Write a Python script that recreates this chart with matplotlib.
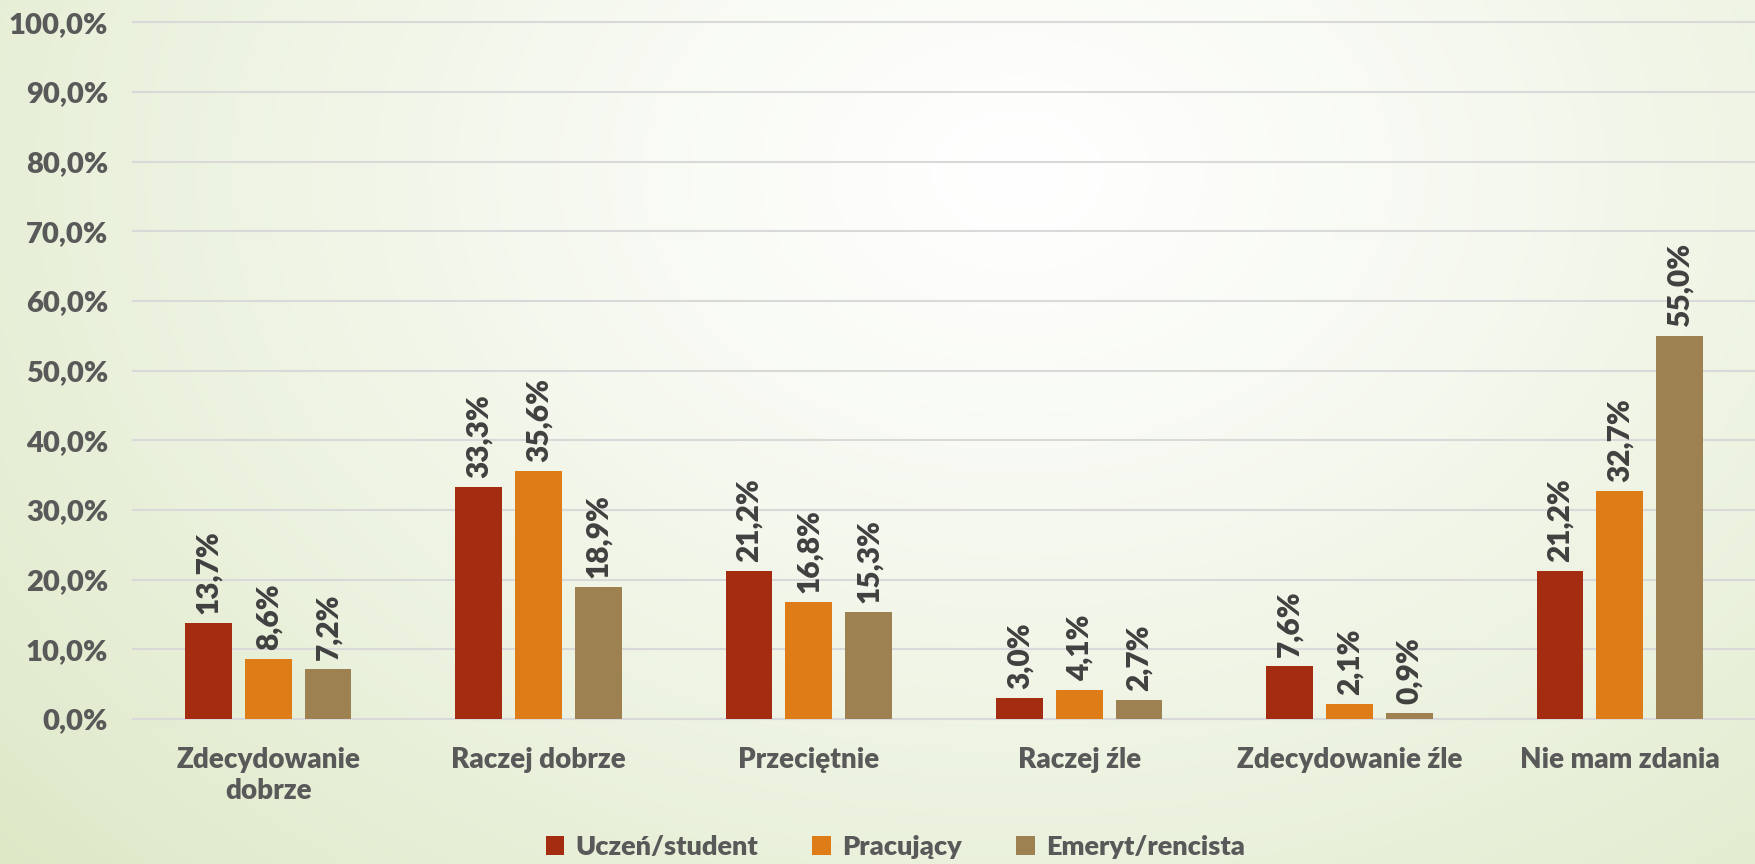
import numpy as np
import matplotlib
matplotlib.use("Agg")
import matplotlib.pyplot as plt
from matplotlib.patches import Patch

plt.rcParams['font.family'] = ['Lato', 'DejaVu Sans']
plt.rcParams['font.weight'] = 'heavy'

categories = ["Zdecydowanie\ndobrze", "Raczej dobrze", "Przeciętnie",
              "Raczej źle", "Zdecydowanie źle", "Nie mam zdania"]
series_names = ["Uczeń/student", "Pracujący", "Emeryt/rencista"]
uczen = [13.7, 33.3, 21.2, 3.0, 7.6, 21.2]
pracujacy = [8.6, 35.6, 16.8, 4.1, 2.1, 32.7]
emeryt = [7.2, 18.9, 15.3, 2.7, 0.9, 55.0]
colors = ["#A42C10", "#DE7C18", "#9E8150"]

fig = plt.figure(figsize=(17.55, 8.64), dpi=100)

# radial gradient background
bg = fig.add_axes([0, 0, 1, 1])
bg.set_axis_off()
gy, gx = np.mgrid[0:1:300j, 0:1:600j]
d = np.sqrt(((gx - 0.58) * 1.5) ** 2 + ((gy - 0.2) * 1.0) ** 2)
d = np.clip(d / 1.2, 0, 1) ** 1.2
inner = np.array([1.0, 1.0, 1.0])
outer = np.array([0xdd, 0xe8, 0xc6]) / 255
img = inner[None, None, :] * (1 - d[..., None]) + outer[None, None, :] * d[..., None]
bg.imshow(img, extent=[0, 1, 0, 1], aspect='auto', origin='upper')
bg.set_xlim(0, 1)
bg.set_ylim(0, 1)

ax = fig.add_axes([0.0758, 0.168, 0.9242, 0.806])
ax.patch.set_alpha(0)

x = np.arange(len(categories))
w = 0.173
step = 0.221
for i, (vals, c) in enumerate(zip([uczen, pracujacy, emeryt], colors)):
    xs = x + (i - 1) * step
    ax.bar(xs, [v / 100 for v in vals], width=w, color=c, zorder=3)
    for xi, v in zip(xs, vals):
        ax.text(xi, v / 100 + 0.013, f"{v:.1f}%".replace(".", ","),
                rotation=90, ha='center', va='bottom', fontsize=21.5,
                fontweight='heavy', color='#404040', zorder=4)

ax.set_xlim(-0.5, len(categories) - 0.5)
ax.set_ylim(0, 1.0)
ax.set_yticks(np.arange(0, 1.01, 0.1))
ax.set_yticklabels([f"{t:.1f}%".replace(".", ",") for t in np.arange(0, 101, 10)])
ax.set_xticks(x)
ax.set_xticklabels(categories)
ax.grid(axis='y', color='#d9d9d9', linewidth=1.5, zorder=0)
for gl in ax.get_ygridlines():
    gl.set_clip_on(False)
for s in ['top', 'right', 'left']:
    ax.spines[s].set_visible(False)
ax.spines['bottom'].set_color('#d9d9d9')
ax.spines['bottom'].set_linewidth(1.5)
ax.tick_params(axis='both', length=0, labelcolor='#595959')
ax.tick_params(axis='y', pad=18, labelsize=21)
ax.tick_params(axis='x', pad=20, labelsize=20)
for lab in ax.get_xticklabels() + ax.get_yticklabels():
    lab.set_fontweight('heavy')
    lab.set_linespacing(1.25)

handles = [Patch(facecolor=c) for c in colors]
fig.legend(handles, series_names, loc='center', bbox_to_anchor=(0.51, 0.02),
           ncol=3, frameon=False, labelcolor='#595959',
           prop={'weight': 'heavy', 'size': 19.5},
           handlelength=0.7, handleheight=0.7, handletextpad=0.4,
           columnspacing=2.0)

fig.savefig("out.png", dpi=100)
